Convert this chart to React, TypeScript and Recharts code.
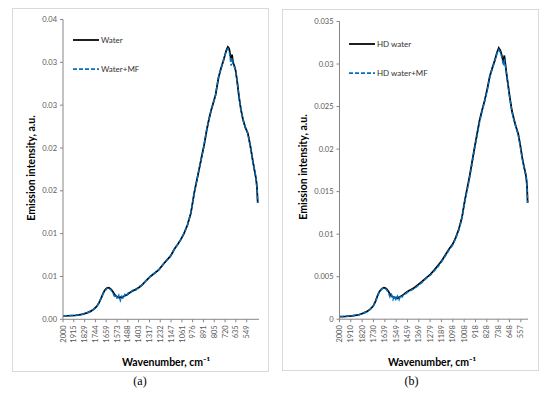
import React from "react";
import { LineChart, Line, XAxis, YAxis, Legend } from "recharts";

const FONT = "Lato, Carlito, 'Liberation Sans', sans-serif";

// panel (a): Water / Water+MF
const wavenumberA = [2000, 1950, 1900, 1850, 1810, 1780, 1755, 1734, 1715, 1698, 1684, 1670, 1657, 1645, 1633, 1620, 1607, 1595, 1583, 1571, 1559, 1547, 1535, 1523, 1511, 1498, 1484, 1468, 1450, 1425, 1400, 1376, 1345, 1310, 1275, 1242, 1210, 1180, 1150, 1120, 1096, 1070, 1045, 1017, 990, 963, 935, 910, 885, 865, 848, 830, 812, 795, 772, 752, 735, 720, 708, 698, 688, 680, 672, 665, 657, 647, 636, 623, 610, 595, 578, 560, 540, 520, 500, 485, 475, 468, 462];
const waterA = [0.0004, 0.00042, 0.00046, 0.00058, 0.00075, 0.00095, 0.0012, 0.0015, 0.00195, 0.0025, 0.003, 0.0034, 0.0036, 0.0037, 0.00365, 0.0035, 0.00325, 0.00295, 0.00275, 0.00262, 0.00255, 0.00258, 0.00252, 0.00265, 0.00275, 0.00285, 0.00298, 0.00315, 0.0033, 0.0035, 0.00372, 0.004, 0.0045, 0.005, 0.0054, 0.0058, 0.0064, 0.0069, 0.0074, 0.0082, 0.0087, 0.0093, 0.01, 0.011, 0.0124, 0.0148, 0.0168, 0.0186, 0.0204, 0.0221, 0.0233, 0.0244, 0.0253, 0.0262, 0.0282, 0.0293, 0.0301, 0.0309, 0.0315, 0.0318, 0.0316, 0.031, 0.0302, 0.0309, 0.03, 0.0296, 0.029, 0.0276, 0.026, 0.0245, 0.0233, 0.0224, 0.0217, 0.0202, 0.0184, 0.0172, 0.0164, 0.0154, 0.0136];
const waterMfA = [0.0004, 0.00042, 0.00047, 0.00058, 0.00074, 0.00094, 0.0012, 0.0015, 0.0019, 0.0025, 0.003, 0.0033, 0.0035, 0.0037, 0.0036, 0.0034, 0.0031, 0.0027, 0.0029, 0.0023, 0.0028, 0.0022, 0.0027, 0.0024, 0.0029, 0.0027, 0.0031, 0.003, 0.0034, 0.0034, 0.0038, 0.004, 0.0045, 0.005, 0.0054, 0.0058, 0.0064, 0.0069, 0.0074, 0.0082, 0.0087, 0.0093, 0.01, 0.011, 0.0124, 0.0148, 0.0168, 0.0186, 0.0204, 0.0221, 0.0233, 0.0244, 0.0253, 0.0262, 0.0282, 0.0293, 0.0301, 0.0309, 0.0314, 0.0316, 0.0314, 0.0306, 0.0296, 0.0305, 0.0297, 0.0295, 0.029, 0.0276, 0.026, 0.0245, 0.0233, 0.0224, 0.0217, 0.0202, 0.0184, 0.0172, 0.0164, 0.0154, 0.0136];
const xTicksA = [2000, 1915, 1829, 1744, 1659, 1573, 1488, 1403, 1317, 1232, 1147, 1061, 976, 891, 805, 720, 635, 549];

// panel (b): HD water / HD water+MF
const wavenumberB = [2000, 1950, 1900, 1850, 1810, 1780, 1755, 1732, 1714, 1700, 1686, 1672, 1659, 1647, 1635, 1622, 1610, 1598, 1586, 1574, 1562, 1550, 1538, 1526, 1514, 1501, 1487, 1472, 1455, 1430, 1405, 1379, 1345, 1310, 1275, 1245, 1215, 1185, 1155, 1125, 1100, 1075, 1050, 1025, 1005, 985, 965, 945, 925, 905, 885, 865, 845, 825, 805, 785, 765, 748, 733, 720, 710, 702, 695, 688, 680, 671, 658, 645, 628, 610, 595, 578, 562, 546, 530, 519, 512, 507, 503];
const hdWaterB = [0.0003, 0.00034, 0.0004, 0.0005, 0.00072, 0.00092, 0.00118, 0.00155, 0.0021, 0.00265, 0.00315, 0.00345, 0.00362, 0.0037, 0.00365, 0.0035, 0.00325, 0.00295, 0.00272, 0.0026, 0.00252, 0.00255, 0.00245, 0.00258, 0.00268, 0.0028, 0.00295, 0.00312, 0.00328, 0.00348, 0.0037, 0.004, 0.0044, 0.00485, 0.0053, 0.0058, 0.00635, 0.0069, 0.0076, 0.0083, 0.0088, 0.0096, 0.0106, 0.012, 0.0138, 0.0153, 0.0168, 0.0185, 0.0202, 0.0218, 0.0234, 0.0246, 0.0257, 0.027, 0.0285, 0.0295, 0.0304, 0.0313, 0.0319, 0.0316, 0.0311, 0.0306, 0.0304, 0.031, 0.03, 0.0289, 0.0275, 0.0261, 0.0245, 0.0234, 0.0226, 0.0218, 0.0205, 0.019, 0.0178, 0.0171, 0.0164, 0.0154, 0.0137];
const hdWaterMfB = [0.0003, 0.00034, 0.0004, 0.0005, 0.0007, 0.0009, 0.00115, 0.0015, 0.002, 0.0026, 0.0031, 0.0034, 0.0036, 0.0037, 0.0036, 0.0034, 0.0031, 0.0026, 0.0029, 0.0023, 0.0028, 0.0022, 0.0027, 0.0023, 0.0028, 0.0026, 0.003, 0.003, 0.0032, 0.0034, 0.0036, 0.0039, 0.0043, 0.0048, 0.0052, 0.0057, 0.0062, 0.0068, 0.0075, 0.0082, 0.0087, 0.0095, 0.0105, 0.0119, 0.0136, 0.0151, 0.0166, 0.0183, 0.02, 0.0216, 0.0232, 0.0245, 0.0256, 0.0269, 0.0284, 0.0294, 0.0303, 0.0312, 0.0317, 0.0314, 0.0309, 0.0303, 0.0298, 0.0306, 0.0299, 0.0288, 0.0274, 0.026, 0.0244, 0.0233, 0.0225, 0.0217, 0.0204, 0.0189, 0.0177, 0.017, 0.0163, 0.0153, 0.0137];
const xTicksB = [2000, 1910, 1820, 1730, 1639, 1549, 1459, 1369, 1279, 1189, 1098, 1008, 918, 828, 738, 648, 557];

const yTicks = [0, 0.005, 0.01, 0.015, 0.02, 0.025, 0.03, 0.035];

const XTick = ({ x, y, payload }: any) => {
  const ty = y + 3;
  return (
    <text
      x={x}
      y={ty}
      transform={`rotate(-90 ${x} ${ty})`}
      textAnchor="end"
      dy="0.35em"
      fontSize={7.5}
      fontFamily={FONT}
      fill="#595959"
    >
      {payload.value}
    </text>
  );
};

const renderLegend = (props: any) => (
  <div style={{ fontFamily: FONT, fontSize: 8, color: "#333" }}>
    {(props.payload || []).map((e: any, i: number) => (
      <div key={i} style={{ display: "flex", alignItems: "center", height: 29 }}>
        <svg width={26} height={4} style={{ display: "block" }}>
          <line x1={0} x2={26} y1={2} y2={2} stroke={e.color} strokeWidth={1.75} strokeDasharray={i === 1 ? "4 2" : undefined} />
        </svg>
        <span style={{ marginLeft: 2, whiteSpace: "nowrap" }}>{e.value}</span>
      </div>
    ))}
  </div>
);

function Panel({ box, chart, margin, wn, s1, s2, names, xTicks, xDomain, yFmt, legend, yTitle, xTitle, tag }: any) {
  const data = wn.map((w: number, i: number) => ({ w, a: s1[i], b: s2[i] }));
  return (
    <>
      <div style={{ position: "absolute", left: box[0], top: box[1], width: box[2], height: box[3], border: "1px solid #d9d9d9", boxSizing: "border-box" }} />
      <div style={{ position: "absolute", left: chart[0], top: chart[1] }}>
        <LineChart width={chart[2]} height={chart[3]} data={data} margin={margin}>
          <XAxis
            dataKey="w"
            type="number"
            domain={xDomain}
            reversed
            ticks={xTicks}
            interval={0}
            tick={<XTick />}
            tickSize={3}
            tickMargin={0}
            height={30}
            stroke="#868686"
          />
          <YAxis
            type="number"
            domain={[0, 0.035]}
            ticks={yTicks}
            interval={0}
            tickFormatter={yFmt}
            tick={{ fontSize: 7.5, fontFamily: FONT, fill: "#595959" }}
            tickSize={3}
            tickMargin={3}
            width={40}
            stroke="#868686"
          />
          <Legend
            layout="vertical"
            align="center"
            verticalAlign="middle"
            content={renderLegend}
            wrapperStyle={{ left: legend[0], top: legend[1], width: "auto" }}
          />
          <Line dataKey="a" name={names[0]} stroke="#000000" strokeWidth={1.75} dot={false} isAnimationActive={false} />
          <Line dataKey="b" name={names[1]} stroke="#0070C0" strokeWidth={1.5} strokeDasharray="4 2" dot={false} isAnimationActive={false} />
        </LineChart>
      </div>
      <div style={{ position: "absolute", left: yTitle[0] - 80, top: yTitle[1] - 8, width: 160, height: 16, lineHeight: "16px", textAlign: "center", transform: "rotate(-90deg)", fontFamily: FONT, fontWeight: 700, fontSize: 10.5, color: "#000" }}>
        Emission intensity, a.u.
      </div>
      <div style={{ position: "absolute", left: xTitle[0] - 80, top: xTitle[1] - 8, width: 160, height: 16, lineHeight: "16px", textAlign: "center", fontFamily: FONT, fontWeight: 700, fontSize: 10.5, color: "#000" }}>
        Wavenumber, cm⁻¹
      </div>
      <div style={{ position: "absolute", left: tag[0] - 20, top: tag[1] - 8, width: 40, height: 16, lineHeight: "16px", textAlign: "center", fontFamily: "'Liberation Serif', serif", fontSize: 12, color: "#000" }}>
        {tag[2]}
      </div>
    </>
  );
}

const fmtA = (v: number) => (Math.round(v * 100 + 1e-9) / 100).toFixed(2);
const fmtB = (v: number) => String(v);

export default function App() {
  return (
    <div style={{ position: "absolute", left: 0, top: 0, width: 550, height: 393, background: "#fff", overflow: "hidden" }}>
      <Panel
        box={[12, 8, 257, 364]}
        chart={[12, 8, 256, 364]}
        margin={{ top: 11.5, right: 9, left: 11, bottom: 22.7 }}
        wn={wavenumberA}
        s1={waterA}
        s2={waterMfA}
        names={["Water", "Water+MF"]}
        xTicks={xTicksA}
        xDomain={[452, 2000]}
        yFmt={fmtA}
        legend={[61, 17.5]}
        yTitle={[31, 168]}
        xTitle={[166, 362]}
        tag={[140, 381, "(a)"]}
      />
      <Panel
        box={[282, 9, 257, 362]}
        chart={[282, 9.5, 256, 361]}
        margin={{ top: 11.5, right: 10, left: 17.5, bottom: 21.8 }}
        wn={wavenumberB}
        s1={hdWaterB}
        s2={hdWaterMfB}
        names={["HD water", "HD water+MF"]}
        xTicks={xTicksB}
        xDomain={[500, 2000]}
        yFmt={fmtB}
        legend={[67, 20]}
        yTitle={[303, 167]}
        xTitle={[432, 362]}
        tag={[411.5, 381, "(b)"]}
      />
    </div>
  );
}
